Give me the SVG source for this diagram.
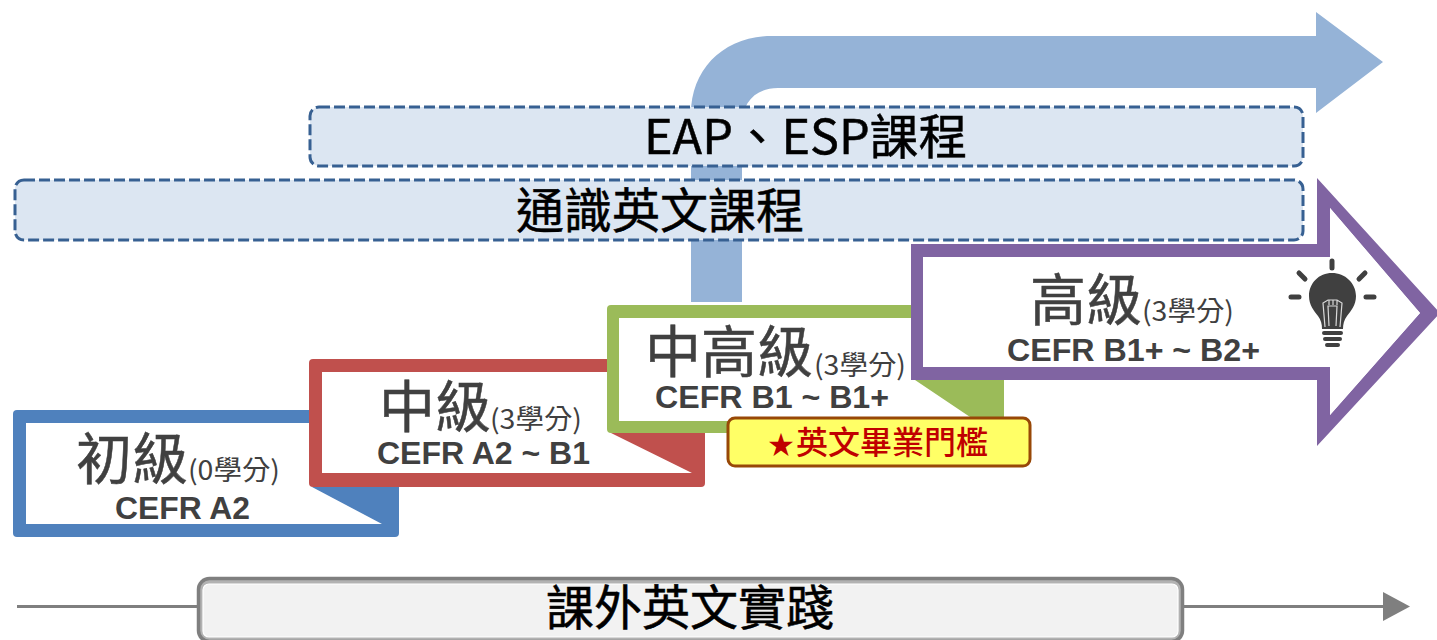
<svg xmlns="http://www.w3.org/2000/svg" width="1437" height="640" viewBox="0 0 1437 640">
<style>
text{font-family:"Noto Sans CJK TC","Liberation Sans",sans-serif}
.big{font-size:48px;fill:#000;stroke:#000;stroke-width:.5}
.lv{font-size:56px;fill:#404040;stroke:#404040;stroke-width:.5}
.sub{font-size:27px;fill:#404040}
.cefr{font-family:"Liberation Sans",Arial,sans-serif;font-size:31px;font-weight:700;fill:#404040}
.dash{fill:#dce6f2;stroke:#376092;stroke-width:3;stroke-dasharray:11 4}
.ray{stroke:#404040;stroke-width:5;stroke-linecap:round;fill:none}
</style>
<g id="connectors">
<path id="top-arrow" fill="#95b3d7" d="M691 302V114C691 68 725 36 772 36H1316V12L1383 62L1316 113V88H778C755 88 742 103 742 125V302Z"/>
<path d="M17 606.500H1385" stroke="#7f7f7f" stroke-width="3" fill="none"/>
<path d="M1383 592L1410 606.500L1383 621Z" fill="#7f7f7f"/>
</g>
<g id="node-eap">
<rect class="dash" x="310" y="107" width="993" height="59" rx="9"/>
<text class="big" x="644" y="154" textLength="323" lengthAdjust="spacingAndGlyphs">EAP、ESP課程</text>
</g>
<g id="node-general">
<rect class="dash" x="15" y="180" width="1288" height="60" rx="9"/>
<text class="big" x="516" y="228">通識英文課程</text>
</g>
<g id="node-elementary">
<path fill="#4f81bd" d="M17 410H399V533Q399 537 395 537H17Q13 537 13 533V414Q13 410 17 410Z"/>
<path fill="#fff" d="M26 423H330V487H312L382 524H26Z"/>
<text class="lv" x="76" y="479">初級</text>
<text class="sub" x="188" y="480" textLength="92" lengthAdjust="spacingAndGlyphs">(0學分)</text>
<text class="cefr" x="115" y="519" textLength="135" lengthAdjust="spacingAndGlyphs">CEFR A2</text>
</g>
<g id="node-intermediate">
<path fill="#c0504d" d="M313 359H705V483Q705 487 701 487H313Q309 487 309 483V363Q309 359 313 359Z"/>
<path fill="#fff" d="M322 372H620V433H611L692 473H322Z"/>
<text class="lv" x="379" y="427">中級</text>
<text class="sub" x="490" y="429" textLength="92" lengthAdjust="spacingAndGlyphs">(3學分)</text>
<text class="cefr" x="377" y="464" textLength="213" lengthAdjust="spacingAndGlyphs">CEFR A2 ~ B1</text>
</g>
<g id="node-upper-intermediate">
<path fill="#9bbb59" d="M611 305H1004V429Q1004 433 1000 433H611Q607 433 607 429V309Q607 305 611 305Z"/>
<path fill="#fff" d="M619 318H930V380H915L976 421H619Z"/>
<text class="lv" x="645" y="372">中高級</text>
<text class="sub" x="814" y="375" textLength="92" lengthAdjust="spacingAndGlyphs">(3學分)</text>
<text class="cefr" x="655" y="408" textLength="234" lengthAdjust="spacingAndGlyphs">CEFR B1 ~ B1+</text>
</g>
<g id="node-threshold">
<rect x="728" y="418" width="302" height="48" rx="7" fill="#ffff66" stroke="#984807" stroke-width="3"/>
<text x="768" y="454" font-size="32" font-weight="500" fill="#c00000"><tspan font-size="26">★</tspan><tspan x="796">英文畢業門檻</tspan></text>
</g>
<g id="node-advanced">
<path fill="#8064a2" fill-rule="evenodd" d="M911 244H1317V178L1440 313L1317 446V380H911ZM923 257V367H1330V415L1420 313L1330 208V257Z"/>
<path fill="#fff" d="M923 257V367H1330V415L1420 313L1330 208V257Z"/>
<text class="lv" x="1030" y="320">高級</text>
<text class="sub" x="1142" y="321" textLength="92" lengthAdjust="spacingAndGlyphs">(3學分)</text>
<text class="cefr" x="1007" y="361" textLength="253" lengthAdjust="spacingAndGlyphs">CEFR B1+ ~ B2+</text>
<g id="bulb">
<path fill="#404040" d="M1332 273C1319 273 1309 283 1309 296C1309 305 1314 311 1318 316C1321 320 1322 324 1322 329H1343C1343 324 1344 320 1347 316C1351 311 1356 305 1356 296C1356 283 1345 273 1332 273Z"/>
<path d="M1325 327L1323 303L1328 300H1337L1342 303L1340 327M1329 326L1328 306H1337L1336 326M1329 300V305M1333 300V305M1337 300V305" fill="none" stroke="#d9d9d9" stroke-width="1.2"/>
<path class="ray" d="M1332 261V268M1299 273L1305 279M1365 273L1359 279M1291 297H1299M1366 297H1374"/>
<path stroke="#404040" stroke-width="4" stroke-linecap="round" fill="none" d="M1324 333H1341M1325 339H1340M1327 345H1338"/>
</g>
</g>
<g id="node-extracurricular">
<rect x="198.500" y="578.500" width="984" height="63" rx="11" fill="#b2b2b2" stroke="#7f7f7f" stroke-width="3.500"/>
<rect x="203" y="584" width="975" height="53" rx="6" fill="#f2f2f2" stroke="#fff" stroke-width="1.200"/>
<text class="big" x="546" y="625">課外英文實踐</text>
</g>
</svg>
